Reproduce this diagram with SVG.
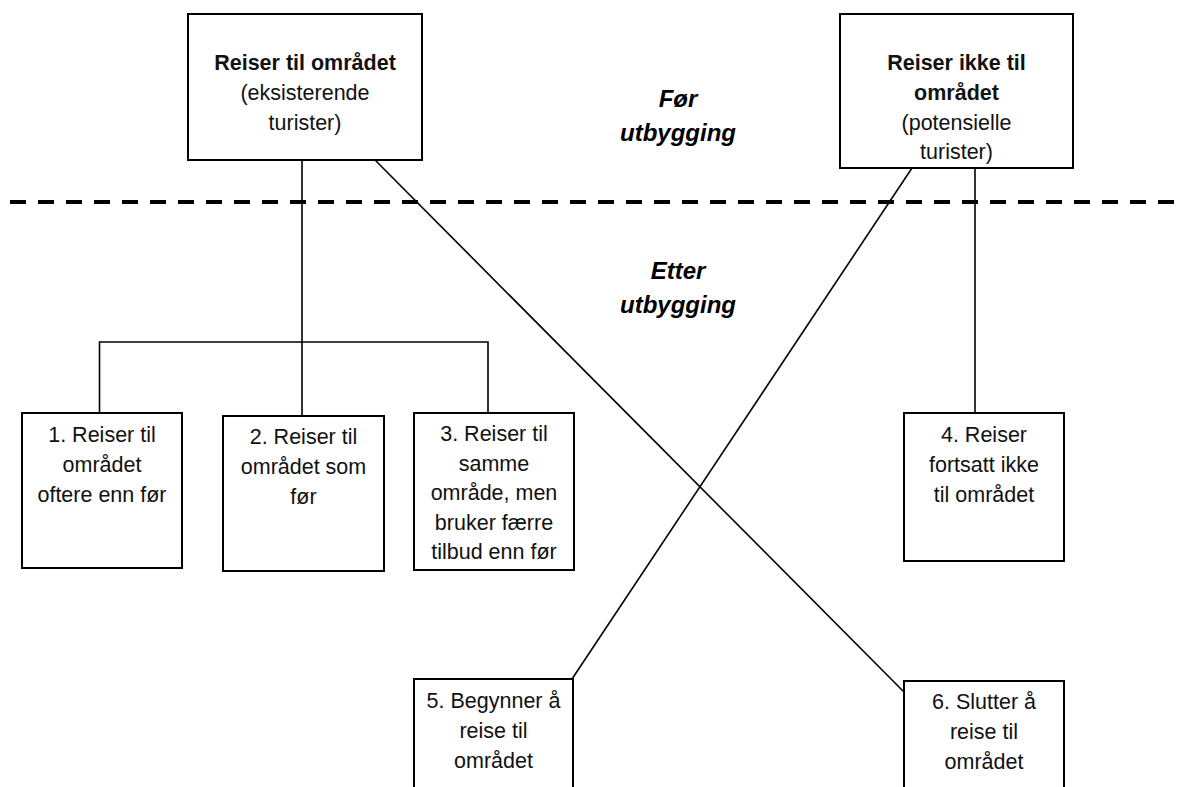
<svg xmlns="http://www.w3.org/2000/svg" width="1177" height="787" viewBox="0 0 1177 787">
<style>
.box{fill:#fff;stroke:#000;stroke-width:2}
.t{font-family:"Liberation Sans",Arial,sans-serif;font-size:21.5px;fill:#111;text-anchor:middle}
.b{font-weight:bold}
.h{font-family:"Liberation Sans",Arial,sans-serif;font-size:24px;font-weight:bold;font-style:italic;fill:#000;text-anchor:middle}
.c{fill:none;stroke:#000;stroke-width:1.6}
.d{fill:none;stroke:#000;stroke-width:4;stroke-dasharray:16 12}
</style>
<rect width="1177" height="787" fill="#fff"/>
<g id="connectors">
<line class="d" x1="10" y1="202" x2="1177" y2="202"/>
<line class="c" x1="302" y1="160" x2="302" y2="416"/>
<polyline class="c" points="99.5,413 99.5,342 488,342 488,413"/>
<line class="c" x1="975" y1="168" x2="975" y2="413"/>
<line class="c" x1="375" y1="160" x2="904" y2="692"/>
<line class="c" x1="912" y1="168" x2="572" y2="679"/>
</g>
<g id="label-for">
<text class="h" x="678" y="107">Før</text>
<text class="h" x="678" y="141">utbygging</text>
</g>
<g id="label-etter">
<text class="h" x="678" y="279">Etter</text>
<text class="h" x="678" y="313">utbygging</text>
</g>
<g id="node-a">
<rect class="box" x="188" y="14" width="234" height="146"/>
<text class="t b" x="305" y="70">Reiser til området</text>
<text class="t" x="305" y="100">(eksisterende</text>
<text class="t" x="305" y="130">turister)</text>
</g>
<g id="node-b">
<rect class="box" x="840" y="14" width="233" height="154"/>
<text class="t b" x="956.5" y="70">Reiser ikke til</text>
<text class="t b" x="956.5" y="100">området</text>
<text class="t" x="956.5" y="129.5">(potensielle</text>
<text class="t" x="956.5" y="158.5">turister)</text>
</g>
<g id="node-1">
<rect class="box" x="22" y="413" width="160" height="155"/>
<text class="t" x="102" y="442">1. Reiser til</text>
<text class="t" x="102" y="472">området</text>
<text class="t" x="102" y="502">oftere enn før</text>
</g>
<g id="node-2">
<rect class="box" x="223" y="416" width="161" height="155"/>
<text class="t" x="303.5" y="444">2. Reiser til</text>
<text class="t" x="303.5" y="474">området som</text>
<text class="t" x="303.5" y="504">før</text>
</g>
<g id="node-3">
<rect class="box" x="414" y="413" width="160" height="157"/>
<text class="t" x="494" y="441">3. Reiser til</text>
<text class="t" x="494" y="470.5">samme</text>
<text class="t" x="494" y="500">område, men</text>
<text class="t" x="494" y="529.5">bruker færre</text>
<text class="t" x="494" y="559">tilbud enn før</text>
</g>
<g id="node-4">
<rect class="box" x="904" y="413" width="160" height="148"/>
<text class="t" x="984" y="442">4. Reiser</text>
<text class="t" x="984" y="472">fortsatt ikke</text>
<text class="t" x="984" y="502">til området</text>
</g>
<g id="node-5">
<rect class="box" x="414" y="679" width="159" height="130"/>
<text class="t" x="493.5" y="708">5. Begynner å</text>
<text class="t" x="493.5" y="738">reise til</text>
<text class="t" x="493.5" y="768">området</text>
</g>
<g id="node-6">
<rect class="box" x="904" y="681" width="160" height="130"/>
<text class="t" x="984" y="709">6. Slutter å</text>
<text class="t" x="984" y="739">reise til</text>
<text class="t" x="984" y="769">området</text>
</g>
</svg>
